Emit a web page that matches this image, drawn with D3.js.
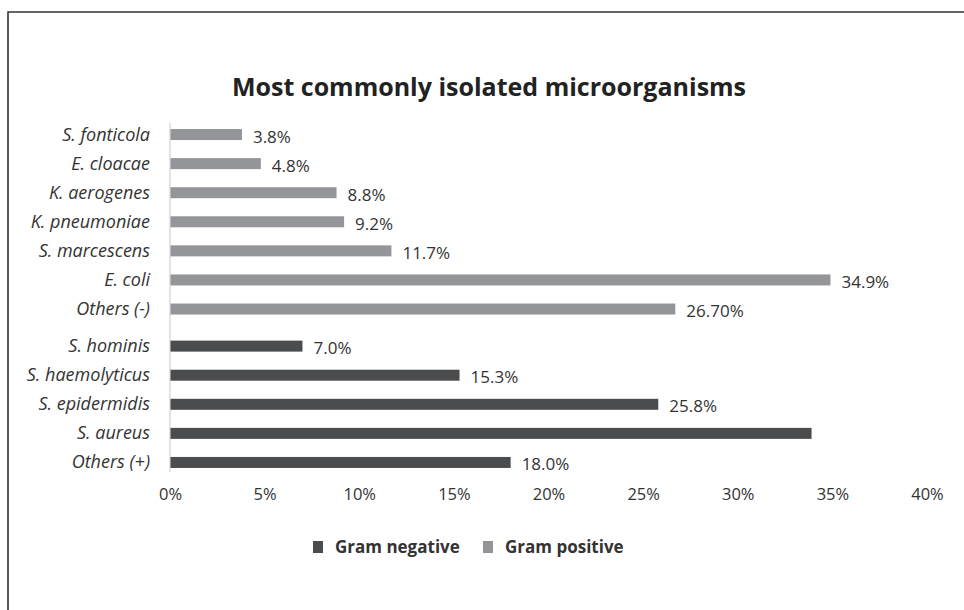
<!DOCTYPE html>
<html>
<head>
<meta charset="utf-8">
<script src="https://cdn.jsdelivr.net/npm/d3@7"></script>
<style>
  body { margin: 0; background: #fff; }
  text { font-family: "Open Sans", "Noto Sans", sans-serif; fill: #333; }
</style>
</head>
<body>
<div id="chart"></div>
<script>
// categories top to bottom
const organisms = ["S. fonticola", "E. cloacae", "K. aerogenes", "K. pneumoniae", "S. marcescens",
                   "E. coli", "Others (-)", "S. hominis", "S. haemolyticus", "S. epidermidis",
                   "S. aureus", "Others (+)"]
const series = ["Gram positive", "Gram positive", "Gram positive", "Gram positive", "Gram positive",
                "Gram positive", "Gram positive", "Gram negative", "Gram negative", "Gram negative",
                "Gram negative", "Gram negative"]
const percents = [3.8, 4.8, 8.8, 9.2, 11.7, 34.9, 26.7, 7.0, 15.3, 25.8, 33.9, 18.0]
const valueLabels = ["3.8%", "4.8%", "8.8%", "9.2%", "11.7%", "34.9%", "26.70%",
                     "7.0%", "15.3%", "25.8%", null, "18.0%"]
const xTicks = [0, 5, 10, 15, 20, 25, 30, 35, 40]
const legendNames = ["Gram negative", "Gram positive"]

const data = organisms.map((d, i) => ({name: d, group: series[i], value: percents[i], label: valueLabels[i]}))

const W = 964, H = 610
const color = d3.scaleOrdinal().domain(legendNames).range(["#4b4c4e", "#939598"])
const offset = {"Gram positive": -4, "Gram negative": 4}
const barH = 11

const svg = d3.select("#chart").append("svg")
    .attr("width", W).attr("height", H)

// outer frame (runs off the right and bottom)
svg.append("path")
    .attr("d", `M8,${H + 5}V12H${W + 5}`)
    .attr("fill", "none")
    .attr("stroke", "#333")
    .attr("stroke-width", 1.6)

svg.append("text")
    .attr("x", 489).attr("y", 96)
    .attr("text-anchor", "middle")
    .style("font-size", "25px")
    .style("font-weight", "bold")
    .style("fill", "#222")
    .text("Most commonly isolated microorganisms")

const x = d3.scaleLinear().domain([0, 40]).range([170, 927])
const y = d3.scaleBand().domain(organisms).range([124, 473]).padding(0)
const barY = d => y(d.name) + y.bandwidth() / 2 + offset[d.group]

// x axis
const xAxis = svg.append("g")
    .attr("transform", "translate(0,472)")
    .call(d3.axisBottom(x).tickValues(xTicks).tickSize(0).tickPadding(16).tickFormat(d => d + "%"))
xAxis.select(".domain").remove()
xAxis.selectAll("text").style("font-size", "16.5px").style("font-family", null).style("fill", "#333")

// vertical axis line
svg.append("line")
    .attr("x1", x(0)).attr("x2", x(0))
    .attr("y1", 123).attr("y2", 472)
    .attr("stroke", "#c8c8c8").attr("stroke-width", 1)

svg.selectAll(".bar")
    .data(data)
    .join("rect")
    .attr("class", "bar")
    .attr("x", x(0) + 0.5)
    .attr("y", d => barY(d) - barH / 2)
    .attr("width", d => x(d.value) - x(0) - 0.5)
    .attr("height", barH)
    .attr("fill", d => color(d.group))

svg.selectAll(".valueLabel")
    .data(data.filter(d => d.label))
    .join("text")
    .attr("class", "valueLabel")
    .attr("x", d => x(d.value) + 11)
    .attr("y", d => barY(d) + 8)
    .style("font-size", "17px")
    .text(d => d.label)

svg.selectAll(".catLabel")
    .data(data)
    .join("text")
    .attr("class", "catLabel")
    .attr("x", 150)
    .attr("y", d => barY(d) + 6)
    .attr("text-anchor", "end")
    .style("font-size", "18px")
    .style("font-style", "italic")
    .text(d => d.name)

// legend
const legend = svg.selectAll(".legend")
    .data(legendNames)
    .join("g")
    .attr("class", "legend")
    .attr("transform", (d, i) => `translate(${313 + i * 170},541)`)
legend.append("rect")
    .attr("width", 10).attr("height", 12)
    .attr("fill", d => color(d))
legend.append("text")
    .attr("x", 22).attr("y", 12)
    .style("font-size", "17px")
    .style("font-weight", "bold")
    .text(d => d)
</script>
</body>
</html>
